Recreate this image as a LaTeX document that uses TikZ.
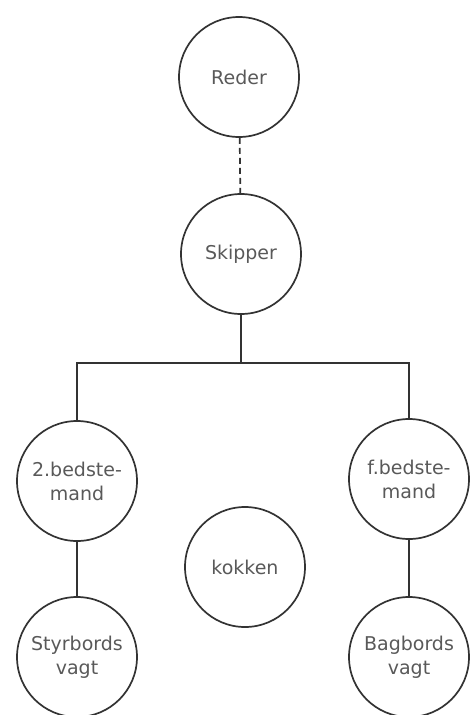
\documentclass[tikz,border=0pt]{standalone}
\usepackage{fontspec}
\setmainfont{DejaVu Sans}
\begin{document}
\begin{tikzpicture}[x=1pt,y=-1pt,
  person/.style={circle,draw=black!80,line width=1.7pt,minimum size=120pt,inner sep=0pt,
    align=center,font=\fontsize{19}{24}\selectfont,text=black!65},
  link/.style={draw=black!80,line width=1.7pt}]
\useasboundingbox (0,0) rectangle (471,715);
\node[person] (reder) at (239,77) {Reder};
\node[person] (skipper) at (241,254) {Skipper};
\node[person] (b2) at (77,481) {2.bedste-\\mand};
\node[person] (b1) at (409,479) {f.bedste-\\mand};
\node[person] (kok) at (245,567) {kokken};
\node[person] (styr) at (77,657) {Styrbords\\vagt};
\node[person] (bag) at (409,657) {Bagbords\\vagt};
\coordinate (bar) at (241,363);
\draw[link,dash pattern=on 6pt off 4pt] (reder) -- (skipper);
\draw[link] (skipper) -- (bar);
\draw[link] (b2.north) |- (bar) -| (b1.north);
\draw[link] (b2) -- (styr);
\draw[link] (b1) -- (bag);
\end{tikzpicture}
\end{document}
